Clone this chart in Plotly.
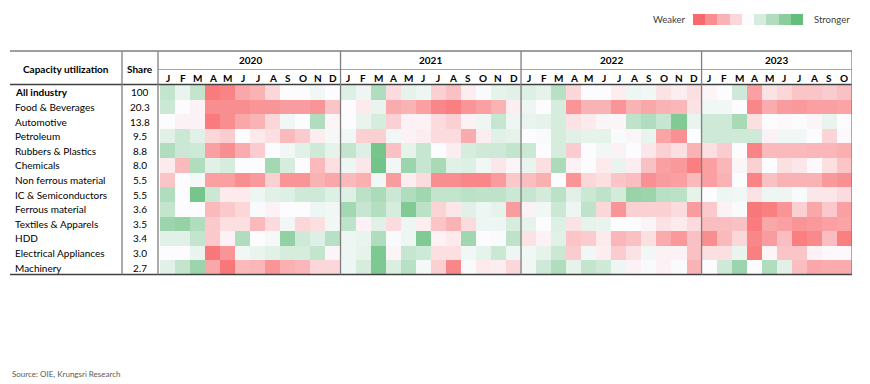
import plotly.graph_objects as go

# The page body has an 8px default margin; the figure is sized/positioned to compensate
OFF = 8
W, H = 870 - OFF, 384 - OFF

industries = ["All industry", "Food & Beverages", "Automotive", "Petroleum",
              "Rubbers & Plastics", "Chemicals", "Non ferrous material",
              "IC & Semiconductors", "Ferrous material", "Textiles & Apparels",
              "HDD", "Electrical Appliances", "Machinery"]
shares = ["100", "20.3", "13.8", "9.5", "8.8", "8.0", "5.5", "5.5", "3.6", "3.5", "3.4", "3.0", "2.7"]
years = ["2020", "2021", "2022", "2023"]
month_labels = ["J", "F", "M", "A", "M", "J", "J", "A", "S", "O", "N", "D"]
months_per_year = [12, 12, 12, 10]

# Relative strength of capacity utilization (negative = weaker, positive = stronger)
cu_2020 = [
    [1.5, 0.5, 1.5, -3.5, -3.3, -2.3, -2.0, -1.0, 0, 0, 0.3, 0],
    [1.3, 0, -0.3, -3.0, -3.0, -3.0, -2.8, -2.8, -2.6, -2.6, -2.8, -1.5],
    [0, -0.3, -0.3, -3.5, -3.0, -2.3, -2.0, -1.0, 0.3, 0, 2.0, -0.2],
    [0.7, 1.3, 0.7, -1.0, -1.3, 0, -0.5, -0.8, -1.8, -1.3, -0.4, 0.2],
    [2.0, 1.3, 1.2, -2.5, -3.0, -2.2, -1.3, 0, 0.3, 0.7, 1.2, 0.6],
    [-0.5, -1.8, 2.0, 0.7, 1.0, 0, 0, 2.3, 1.0, 0, -1.8, -0.8],
    [-1.5, 0, 0.2, -2.5, -2.5, -3.0, -2.7, -1.2, -2.8, -2.8, -2.0, -2.3],
    [2.0, 0, 3.5, 1.3, -0.5, -0.5, 0.4, 0.7, 0.8, 1.2, 1.2, 0.8],
    [1.5, 0, 0, -1.8, -1.4, -1.0, 0.1, -0.3, 0, 0, 0.4, 0.3],
    [2.5, 2.7, 2.0, -1.4, -0.8, -0.8, -1.8, -0.9, 0.3, -1.0, -0.8, 0.3],
    [0.7, 0.7, 1.5, -1.4, -0.3, 2.0, 0, 0.2, 2.8, 1.2, 0.8, 1.8],
    [0, 0, 0.5, -3.6, -2.8, 0.3, 0.5, 0.7, 1.0, 1.0, 1.5, -0.2],
    [0.7, 1.5, 2.5, -2.3, -3.6, -1.8, -1.9, -2.8, -2.1, -1.9, -1.0, -1.0],
]
cu_2021 = [
    [0.8, 0.4, 2.0, -0.9, 0.6, 0.4, -1.2, -1.6, -0.4, 0.1, 0.6, 0.7],
    [0, -0.5, 0.5, -2.2, -2.0, -2.5, -3.2, -3.4, -2.8, -2.5, -2.0, -0.4],
    [0, 0.5, 1.0, -1.2, -0.3, -0.3, -0.9, -1.2, -0.3, 0.4, 1.4, 0.4],
    [0.3, -1.2, -1.2, 0.3, -0.3, -0.4, -0.9, -0.9, -2.2, -0.4, 0.7, 0.6],
    [1.5, 0.8, 3.5, -1.6, 0.6, 1.4, 0, -0.4, 1.0, 1.2, 1.2, 1.5],
    [0.4, -0.6, 3.6, 0.3, 2.5, 1.4, 2.2, 0.7, 0.8, 0.3, -0.6, -0.2],
    [-1.8, -2.1, 0.3, -2.6, -0.4, -0.9, -3.0, -3.0, -3.2, -3.2, -2.6, -1.4],
    [0.8, 1.7, 2.1, 1.3, 2.0, 2.4, 1.5, 1.5, 1.7, 1.6, 1.6, 1.3],
    [2.3, 1.4, 1.9, 1.0, 3.2, 1.7, -1.1, -0.6, 0.7, 0.4, 0.6, -2.6],
    [1.6, -0.3, 0.7, -0.9, 0.4, -0.4, -1.5, -2.0, -0.9, 0.4, 0.4, 1.0],
    [0.4, 0.5, 2.0, 0.1, 0.4, 3.2, -0.3, -0.5, 2.4, 0, 0.1, 1.6],
    [0.4, 0.6, 3.3, -0.2, 1.4, 1.2, -0.8, -0.8, 0.3, 0.6, 1.3, 0.4],
    [0.4, 1.0, 3.3, 0.9, 1.8, 0.2, -1.2, -3.2, 0.1, -0.5, -0.4, -1.0],
]
cu_2022 = [
    [0.8, 0.6, 1.8, -1.0, 0, 0, -0.4, 0.4, 0.3, -0.7, -0.4, -0.8],
    [0.4, 0, 1.0, -2.8, -2.0, -2.0, -2.8, -2.0, -2.3, -2.0, -1.9, -0.7],
    [0.5, 0.6, 1.0, -0.7, -0.5, -0.2, -0.2, 1.6, 2.0, 1.4, 3.2, 0.5],
    [0, 0.1, 1.0, 0.7, 0.6, 0.6, 0.1, -0.2, 0.5, -2.4, -2.9, 0],
    [1.3, 0, 1.0, -1.3, 0, 0.3, -0.3, 0, -0.6, -1.2, -0.8, -2.0],
    [0.5, -0.8, 2.1, -0.3, 0, -0.5, 0.5, -0.4, -1.6, -2.5, -2.7, -3.4],
    [-1.7, -2.1, 0, -2.8, -1.0, -0.8, -1.5, -1.7, -2.9, -2.6, -2.5, -1.8],
    [1.4, 1.1, 1.7, 0.7, 1.3, 1.6, 1.1, 2.6, 2.5, 1.8, 1.7, 0.6],
    [-0.3, 0.3, 1.3, 0.4, 1.6, -1.0, -2.8, -1.2, -1.2, -1.2, -0.9, -2.6],
    [0.6, 0, 0.8, -0.7, 0.6, 0.5, 0, 0, -0.2, -0.7, -0.5, -0.9],
    [-0.7, -0.3, 0.7, -1.5, -1.3, -0.5, -1.9, -1.6, -0.8, -2.2, -2.7, -1.6],
    [0.3, 0.6, 1.3, -1.3, 0.3, -0.4, -1.3, -0.7, 0.3, -0.3, -0.3, -1.6],
    [0.3, 1.2, 2.0, 0.6, 1.5, 1.2, 0.4, -0.3, 0.1, -0.3, 0.1, -2.0],
]
cu_2023 = [
    [-0.2, 0, 1.2, -2.5, -0.7, -1.0, -1.5, -1.5, -1.3, -1.6],
    [0.3, 0.3, 0, -3.2, -2.2, -2.6, -2.7, -2.5, -2.5, -2.4],
    [1.2, 1.2, 2.2, -0.8, 0, -0.1, 0, -0.2, 0.5, 0],
    [1.2, 1.2, 1.2, 1.2, -0.3, 0.3, 0.3, 0, -1.1, -0.1],
    [-0.8, -1.3, 0, -3.3, -1.8, -1.8, -1.8, -1.9, -1.9, -2.1],
    [-2.5, -1.9, -0.2, -1.2, 0, -0.8, -0.6, -0.1, -0.8, -1.5],
    [-2.5, -2.0, 0, -3.3, -1.6, -2.0, -2.0, -2.0, -2.7, -2.9],
    [0, 0.4, 0.3, -0.7, 0.4, 0.4, 0.1, -0.6, -0.6, -0.9],
    [-1.4, -0.3, 0.1, -3.6, -3.4, -2.8, -1.2, -2.3, -1.4, -2.5],
    [-1.7, -1.7, -1.6, -3.5, -2.3, -2.5, -2.8, -2.7, -2.5, -2.4],
    [-3.0, -1.8, -1.0, -3.2, -2.6, -1.7, -3.4, -3.1, -1.7, -3.4],
    [-0.8, -0.8, 0.5, -3.4, -0.2, -1.5, -1.5, -0.3, -0.1, -0.1],
    [0, 1.2, 2.5, 0, 2.0, 0.7, -1.7, -2.3, -2.2, -2.2],
]
legend_levels = [-4, -3, -2, -1, 0, 1, 2, 3, 4]

z = [a + b + c + d for a, b, c, d in zip(cu_2020, cu_2021, cu_2022, cu_2023)]
ncols = sum(months_per_year)
cols = list(range(ncols))
rows = list(range(len(industries)))

colorscale = [[0.0, "#F8696B"], [0.5, "#FCFCFF"], [1.0, "#63BE7B"]]

FONT = "Lato, Liberation Sans, sans-serif"
FS = 10


def px(x):
    return (x - OFF) / W


def py(y):
    return 1 - (y - OFF) / H


fig = go.Figure()
fig.add_trace(go.Heatmap(z=z, x=cols, y=rows, colorscale=colorscale, zmin=-4, zmax=4,
                         showscale=False, xaxis="x", yaxis="y", hoverinfo="z"))
fig.add_trace(go.Heatmap(z=[legend_levels], x=list(range(len(legend_levels))), y=[0],
                         colorscale=colorscale, zmin=-4, zmax=4, showscale=False,
                         xaxis="x2", yaxis="y2", hoverinfo="skip"))

ann = []
for i, (name, sh) in enumerate(zip(industries, shares)):
    label = f"<b>{name}</b>" if i == 0 else name
    ann.append(dict(x=px(13), xref="paper", y=i, yref="y", text=label, xanchor="left",
                    showarrow=False, font=dict(size=FS, color="#000", family=FONT)))
    ann.append(dict(x=px(140), xref="paper", y=i, yref="y", text=sh, xanchor="center",
                    showarrow=False, font=dict(size=FS, color="#000", family=FONT)))

ann.append(dict(x=px(66), y=py(69), xref="paper", yref="paper", text="<b>Capacity utilization</b>",
                xanchor="center", yanchor="middle",
                showarrow=False, font=dict(size=FS, color="#000", family=FONT)))
ann.append(dict(x=px(140), y=py(69), xref="paper", yref="paper", text="<b>Share</b>",
                xanchor="center", yanchor="middle",
                showarrow=False, font=dict(size=FS, color="#000", family=FONT)))

start = 0
boundaries = []
for yr, n in zip(years, months_per_year):
    ann.append(dict(x=start + (n - 1) / 2, xref="x", y=py(60), yref="paper", text=f"<b>{yr}</b>",
                    xanchor="center", yanchor="middle",
                    showarrow=False, font=dict(size=FS, color="#000", family=FONT)))
    for k in range(n):
        ann.append(dict(x=start + k, xref="x", y=py(77.5), yref="paper", text=f"<b>{month_labels[k]}</b>",
                        xanchor="center", yanchor="middle",
                        showarrow=False, font=dict(size=10, color="#000", family=FONT)))
    start += n
    boundaries.append(start - 0.5)

ann.append(dict(x=px(688), y=py(19.5), xref="paper", yref="paper", text="Weaker", xanchor="right",
                yanchor="middle", showarrow=False, font=dict(size=9.5, color="#404040", family=FONT)))
ann.append(dict(x=px(812), y=py(19.5), xref="paper", yref="paper", text="Stronger", xanchor="left",
                yanchor="middle", showarrow=False, font=dict(size=9.5, color="#404040", family=FONT)))
ann.append(dict(x=px(10), y=py(374), xref="paper", yref="paper", text="Source: OIE, Krungsri Research",
                xanchor="left", yanchor="middle", showarrow=False,
                font=dict(size=8, color="#595959", family=FONT)))

shapes = []
line_dark = dict(color="#404040", width=1.3)
line_gray = dict(color="#7f7f7f", width=1.3)
# horizontal rules
shapes.append(dict(type="line", xref="paper", yref="paper", x0=px(10), x1=px(852), y0=py(51), y1=py(51), line=line_gray))
shapes.append(dict(type="line", xref="paper", yref="paper", x0=px(158), x1=px(852), y0=py(69.5), y1=py(69.5),
                   line=dict(color="#a6a6a6", width=1)))
shapes.append(dict(type="line", xref="paper", yref="paper", x0=px(10), x1=px(852), y0=py(84.5), y1=py(84.5), line=line_dark))
shapes.append(dict(type="line", xref="paper", yref="paper", x0=px(10), x1=px(852), y0=py(274.5), y1=py(274.5), line=line_dark))
# vertical rules
for xv in [122, 158]:
    shapes.append(dict(type="line", xref="paper", yref="paper", x0=px(xv), x1=px(xv), y0=py(51), y1=py(274.5), line=line_gray))
for b in boundaries:
    shapes.append(dict(type="line", xref="x", yref="paper", x0=b, x1=b, y0=py(51), y1=py(274.5), line=line_gray))

fig.update_layout(
    width=W, height=H, autosize=False,
    margin=dict(l=0, r=0, t=0, b=0),
    paper_bgcolor="white", plot_bgcolor="white",
    font=dict(family=FONT, size=FS, color="#000"),
    xaxis=dict(domain=[px(160), px(852)], range=[-0.5, ncols - 0.5], visible=False, fixedrange=True),
    yaxis=dict(domain=[py(275), py(85)], range=[len(industries) - 0.5, -0.5], visible=False, fixedrange=True),
    xaxis2=dict(domain=[px(693), px(803)], range=[-0.5, len(legend_levels) - 0.5], visible=False, anchor="y2"),
    yaxis2=dict(domain=[py(25), py(14)], range=[-0.5, 0.5], visible=False, anchor="x2"),
    annotations=ann, shapes=shapes, showlegend=False,
)

fig.write_html("out.html")
